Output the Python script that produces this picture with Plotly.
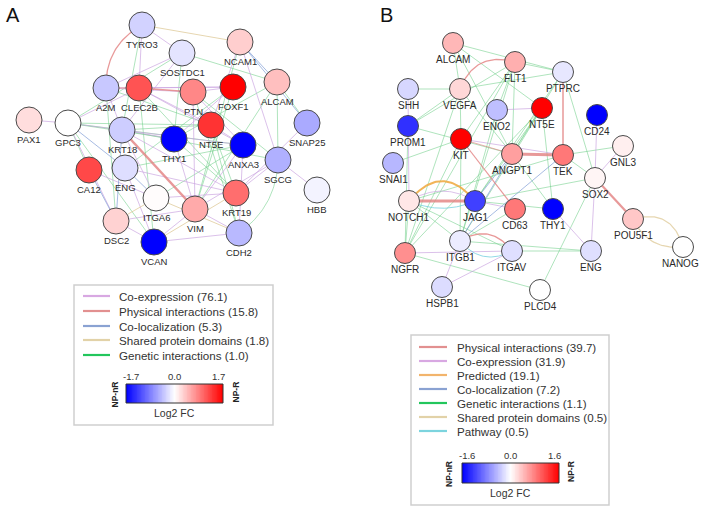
import numpy as np
import plotly.graph_objects as go

# ---------------- data ----------------
# Panel A nodes (name, layout position, log2 FC)
names_A = ["TYRO3", "SOSTDC1", "NCAM1", "A2M", "CLEC2B", "PTN", "FOXF1", "ALCAM", "PAX1",
           "GPC3", "KRT18", "NT5E", "THY1", "ANXA3", "SNAP25", "SGCG", "HBB", "CA12", "ENG",
           "ITGA6", "VIM", "KRT19", "DSC2", "VCAN", "CDH2"]
layout_x_A = [142, 182, 240, 106, 139, 193, 233, 277, 29, 68, 122, 211, 174, 243, 307, 278,
              317, 89, 125, 156, 195, 236, 116, 154, 239]
layout_y_A = [25, 53, 42, 88, 88, 92, 87, 82, 120, 123, 130, 125, 139, 145, 123, 160, 190,
              170, 168, 198, 209, 193, 221, 242, 233]
fc_A = [-0.3, -0.18, 0.33, -0.37, 1.15, 0.8, 1.7, 0.43, 0.23, 0.0, -0.33, 1.36, -1.7, -1.7,
        -0.57, -0.53, -0.08, 1.22, -0.22, 0.02, 0.57, 0.97, 0.3, -1.7, -0.47]

# Panel B nodes
names_B = ["ALCAM", "FLT1", "PTPRC", "SHH", "VEGFA", "ENO2", "NT5E", "CD24", "PROM1", "KIT",
           "ANGPT1", "TEK", "GNL3", "SNAI1", "SOX2", "NOTCH1", "JAG1", "CD63", "THY1",
           "POU5F1", "NANOG", "ITGB1", "ITGAV", "ENG", "NGFR", "HSPB1", "PLCD4"]
layout_x_B = [453, 515, 563, 408, 460, 497, 542, 597, 408, 461, 512, 563, 623, 393, 595, 409,
              475, 515, 553, 633, 683, 460, 512, 591, 405, 442, 540]
layout_y_B = [43, 62, 72, 89, 89, 110, 108, 115, 126, 139, 154, 155, 146, 163, 178, 201, 201,
              209, 209, 219, 247, 241, 251, 251, 253, 287, 290]
fc_B = [0.45, 0.5, -0.15, -0.25, 0.25, -0.4, 1.6, -1.6, -1.3, 1.6, 0.6, 0.85, 0.1, -0.45,
        0.06, 0.15, -1.2, 0.85, -1.6, 0.35, 0.0, -0.12, -0.2, -0.2, 0.7, -0.22, 0.0]

# Panel A edges by network type
coexp_A = [("TYRO3", "CLEC2B"), ("TYRO3", "SOSTDC1"), ("SOSTDC1", "A2M"), ("SOSTDC1", "KRT18"),
           ("A2M", "PTN"), ("CLEC2B", "FOXF1"), ("PTN", "FOXF1"),
           ("NCAM1", "NT5E"), ("NCAM1", "SGCG"), ("PAX1", "GPC3"), ("GPC3", "CLEC2B"),
           ("GPC3", "KRT18"), ("GPC3", "DSC2"), ("KRT18", "THY1"), ("KRT18", "ANXA3"),
           ("KRT18", "ITGA6"), ("KRT18", "KRT19"), ("THY1", "VIM"), ("NT5E", "ANXA3"),
           ("ANXA3", "VIM"), ("ANXA3", "CDH2"), ("SGCG", "HBB"), ("SGCG", "KRT19"),
           ("SGCG", "VIM"), ("ENG", "VCAN"), ("ITGA6", "KRT19"), ("DSC2", "VCAN"),
           ("DSC2", "VIM"), ("VCAN", "VIM"), ("VCAN", "CDH2"), ("VIM", "CDH2"),
           ("CA12", "ITGA6"), ("PTN", "VIM"), ("FOXF1", "THY1"), ("CLEC2B", "ANXA3"),
           ("PTN", "ANXA3"), ("A2M", "FOXF1"), ("CLEC2B", "NT5E"), ("ENG", "KRT19"),
           ("SNAP25", "KRT19"), ("A2M", "KRT18")]
phys_A = [("KRT18", "VIM", 2.5), ("CLEC2B", "PTN", 1.6), ("A2M", "CLEC2B", 1.2)]
phys_curved_A = [("TYRO3", "A2M", 0.3)]
coloc_A = [("NCAM1", "ALCAM"), ("NCAM1", "SNAP25"), ("CA12", "DSC2"), ("ENG", "ITGA6"),
           ("KRT18", "DSC2"), ("GPC3", "ENG")]
shared_A = [("TYRO3", "NCAM1"), ("VCAN", "KRT19"), ("ITGA6", "CDH2"), ("DSC2", "ITGA6")]
genetic_A = [("TYRO3", "KRT18"), ("SOSTDC1", "GPC3"), ("SOSTDC1", "ALCAM"), ("GPC3", "NT5E"),
             ("GPC3", "THY1"), ("GPC3", "ANXA3"), ("GPC3", "CA12"), ("GPC3", "VCAN"),
             ("A2M", "DSC2"), ("A2M", "NT5E"), ("CLEC2B", "KRT19"), ("ALCAM", "SNAP25"),
             ("ALCAM", "THY1"), ("ALCAM", "SGCG"), ("ALCAM", "VIM"), ("FOXF1", "VIM"),
             ("NT5E", "KRT19"), ("NT5E", "CDH2"), ("THY1", "KRT19"), ("ANXA3", "ITGA6"),
             ("KRT18", "SGCG"), ("ENG", "ANXA3"), ("KRT18", "NT5E"), ("PTN", "SGCG"),
             ("FOXF1", "ENG"), ("NCAM1", "VIM"), ("PTN", "CDH2"), ("SOSTDC1", "THY1"),
             ("CLEC2B", "VCAN")]
genetic_curved_A = [("SGCG", "CDH2", -0.25)]

# Panel B edges by network type
phys_B = [("ANGPT1", "TEK", 3.0), ("NOTCH1", "JAG1", 3.0), ("PTPRC", "TEK", 1.5),
          ("KIT", "CD63", 1.2), ("SOX2", "POU5F1", 2.2), ("KIT", "ANGPT1", 0.8)]
phys_curved_B = [("VEGFA", "FLT1", -0.45), ("ITGB1", "ITGAV", -0.45)]
pred_curved_B = [("NOTCH1", "JAG1", -0.6)]
coexp_B = [("KIT", "TEK"), ("ENO2", "NT5E"), ("SHH", "NOTCH1"), ("ITGB1", "HSPB1"),
           ("ITGAV", "HSPB1"), ("NGFR", "ITGAV"), ("ENG", "THY1"), ("SOX2", "ENG"),
           ("CD24", "SOX2"), ("GNL3", "SOX2"), ("JAG1", "CD63")]
coexp_curved_B = [("NOTCH1", "JAG1", -0.3)]
coloc_B = [("ITGB1", "TEK"), ("JAG1", "ANGPT1"), ("ITGB1", "ANGPT1")]
pathway_curved_B = [("ITGB1", "ITGAV", 0.4), ("NOTCH1", "JAG1", 0.22)]
shared_curved_B = [("POU5F1", "NANOG", -0.5), ("POU5F1", "NANOG", 0.35)]
genetic_B = [("ALCAM", "ANGPT1"), ("ALCAM", "NT5E"), ("ALCAM", "PTPRC"), ("VEGFA", "PROM1"),
             ("VEGFA", "PTPRC"), ("PROM1", "FLT1"), ("KIT", "FLT1"), ("PROM1", "ANGPT1"),
             ("SNAI1", "KIT"), ("FLT1", "ITGB1"), ("FLT1", "NGFR"), ("VEGFA", "NGFR"),
             ("PTPRC", "JAG1"), ("PTPRC", "SOX2"), ("NT5E", "JAG1"), ("NT5E", "ITGB1"),
             ("TEK", "GNL3"), ("TEK", "NOTCH1"), ("SOX2", "JAG1"), ("TEK", "SOX2"),
             ("ANGPT1", "THY1"), ("JAG1", "THY1"), ("CD63", "ITGB1"), ("ITGB1", "ENG"),
             ("ITGAV", "ENG"), ("NOTCH1", "NGFR"), ("PROM1", "NGFR"), ("KIT", "ITGB1"),
             ("NOTCH1", "ITGB1"), ("NGFR", "PLCD4"), ("PLCD4", "SOX2"), ("ENO2", "ITGB1"),
             ("FLT1", "ENO2"), ("FLT1", "PTPRC"), ("FLT1", "ANGPT1"), ("NT5E", "ANGPT1"),
             ("NT5E", "NGFR"), ("PTPRC", "ANGPT1"), ("KIT", "NGFR"), ("NOTCH1", "ITGAV"),
             ("VEGFA", "ANGPT1"), ("VEGFA", "KIT"), ("NT5E", "THY1"), ("ALCAM", "VEGFA"),
             ("SHH", "VEGFA")]

# Legend texts
legend_A = ["Co-expression (76.1)", "Physical interactions (15.8)", "Co-localization (5.3)",
            "Shared protein domains (1.8)", "Genetic interactions (1.0)"]
legend_A_types = ["coexp", "phys", "coloc", "shared", "genetic"]
legend_B = ["Physical interactions (39.7)", "Co-expression (31.9)", "Predicted (19.1)",
            "Co-localization (7.2)", "Genetic interactions (1.1)",
            "Shared protein domains (0.5)", "Pathway (0.5)"]
legend_B_types = ["phys", "coexp", "pred", "coloc", "genetic", "shared", "pathway"]
scale_A = [-1.7, 0.0, 1.7]
scale_B = [-1.6, 0.0, 1.6]
scale_ticks_A = ["-1.7", "0.0", "1.7"]
scale_ticks_B = ["-1.6", "0.0", "1.6"]

# ---------------- styles ----------------
FONT = "Liberation Sans, Arial, Helvetica, sans-serif"
edge_col = {
    "coexp": "rgba(200,160,222,0.65)",
    "phys": "rgba(226,128,128,0.8)",
    "coloc": "rgba(120,150,210,0.65)",
    "shared": "rgba(222,200,150,0.75)",
    "genetic": "rgba(110,205,135,0.55)",
    "pred": "rgba(240,172,70,0.9)",
    "pathway": "rgba(110,205,222,0.75)",
}
legend_col = {
    "coexp": "#d8a8e2", "phys": "#e29090", "coloc": "#8aa2d2", "shared": "#e2d2a8",
    "genetic": "#22c65c", "pred": "#f2b46c", "pathway": "#7cd4de",
}
CSCALE = [[0, "#0000ff"], [0.5, "#ffffff"], [1, "#ff0000"]]
W, H = 704, 509

fig = go.Figure()


def pos_map(names, xs, ys):
    return {n: (x, y) for n, x, y in zip(names, xs, ys)}


PA = pos_map(names_A, layout_x_A, layout_y_A)
PB = pos_map(names_B, layout_x_B, layout_y_B)


def add_straight(P, edges, kind, width=1.0):
    xs, ys = [], []
    for e in edges:
        a, b = e[0], e[1]
        xs += [P[a][0], P[b][0], None]
        ys += [P[a][1], P[b][1], None]
    fig.add_trace(go.Scatter(x=xs, y=ys, mode="lines", hoverinfo="skip",
                             line=dict(color=edge_col[kind], width=width)))


def add_weighted(P, edges, kind):
    for a, b, w in edges:
        add_straight(P, [(a, b)], kind, w)


def add_curved(P, edges, kind, width=1.2):
    t = np.linspace(0, 1, 40)
    for a, b, c in edges:
        x0, y0 = P[a]
        x1, y1 = P[b]
        mx, my = (x0 + x1) / 2, (y0 + y1) / 2
        dx, dy = x1 - x0, y1 - y0
        cx, cy = mx - c * dy, my + c * dx
        bx = (1 - t) ** 2 * x0 + 2 * (1 - t) * t * cx + t ** 2 * x1
        by = (1 - t) ** 2 * y0 + 2 * (1 - t) * t * cy + t ** 2 * y1
        fig.add_trace(go.Scatter(x=bx, y=by, mode="lines", hoverinfo="skip",
                                 line=dict(color=edge_col[kind], width=width)))


# Panel A edges
add_straight(PA, genetic_A, "genetic")
add_curved(PA, genetic_curved_A, "genetic", 1.0)
add_straight(PA, coexp_A, "coexp")
add_straight(PA, coloc_A, "coloc")
add_straight(PA, shared_A, "shared")
add_weighted(PA, phys_A, "phys")
add_curved(PA, phys_curved_A, "phys", 1.3)

# Panel B edges
add_straight(PB, genetic_B, "genetic")
add_straight(PB, coexp_B, "coexp")
add_curved(PB, coexp_curved_B, "coexp", 1.0)
add_straight(PB, coloc_B, "coloc")
add_curved(PB, pathway_curved_B, "pathway", 1.0)
add_curved(PB, shared_curved_B, "shared", 1.2)
add_weighted(PB, phys_B, "phys")
add_curved(PB, phys_curved_B, "phys", 1.3)
add_curved(PB, pred_curved_B, "pred", 2.0)


def add_nodes(names, xs, ys, fc, lim, size, fsize):
    fig.add_trace(go.Scatter(
        x=xs, y=ys, mode="markers", hoverinfo="text", text=names,
        marker=dict(size=size, color=fc, colorscale=CSCALE, cmin=-lim, cmax=lim,
                    line=dict(color="#4a4a4a", width=1), opacity=1)))
    for n, x, y in zip(names, xs, ys):
        near_edge = x > W - 24
        fig.add_annotation(x=W - 3 if near_edge else x, y=y + size / 2 + 6, text=n,
                           showarrow=False, xanchor="right" if near_edge else "center",
                           yanchor="middle",
                           font=dict(family=FONT, size=fsize, color="#2a2a2a"))


add_nodes(names_A, layout_x_A, layout_y_A, fc_A, 1.7, 26, 9.5)
add_nodes(names_B, layout_x_B, layout_y_B, fc_B, 1.6, 21, 10)


def add_legend(box, rows_y, labels, types, line_x, text_x, scale, ticks, cbar, tick_y,
               np_x, lab_y):
    x0, y0, x1, y1 = box
    fig.add_shape(type="rect", x0=x0, y0=y0, x1=x1, y1=y1,
                  line=dict(color="#cfcfcf", width=1.5), fillcolor="rgba(0,0,0,0)")
    for y, lab, t in zip(rows_y, labels, types):
        fig.add_shape(type="line", x0=line_x[0], x1=line_x[1], y0=y, y1=y,
                      line=dict(color=legend_col[t], width=2.2))
        fig.add_annotation(x=text_x, y=y, text=lab, showarrow=False, xanchor="left",
                           yanchor="middle", font=dict(family=FONT, size=11.6, color="#333"))
    cx0, cy0, cx1, cy1 = cbar
    lim = scale[-1]
    n = 120
    fig.add_trace(go.Heatmap(
        z=[np.linspace(-lim, lim, n)], x=np.linspace(cx0, cx1, n + 1), y=[cy0, cy1],
        colorscale=CSCALE, zmin=-lim, zmax=lim, showscale=False, hoverinfo="skip"))
    fig.add_shape(type="rect", x0=cx0, y0=cy0, x1=cx1, y1=cy1,
                  line=dict(color="#333", width=1))
    for v, tl in zip(scale, ticks):
        tx = cx0 + 5 + (v + lim) / (2 * lim) * (cx1 - cx0 - 10)
        fig.add_annotation(x=tx, y=tick_y, text=tl, showarrow=False, xanchor="center",
                           yanchor="middle", font=dict(family=FONT, size=9.5, color="#333"))
    cyc = (cy0 + cy1) / 2
    fig.add_annotation(x=np_x[0], y=cyc + 1, text="<b>NP-nR</b>", showarrow=False,
                       textangle=-90, xanchor="center", yanchor="middle",
                       font=dict(family=FONT, size=8.5, color="#222"))
    fig.add_annotation(x=np_x[1], y=cyc - 1, text="<b>NP-R</b>", showarrow=False,
                       textangle=-90, xanchor="center", yanchor="middle",
                       font=dict(family=FONT, size=8.5, color="#222"))
    fig.add_annotation(x=(cx0 + cx1) / 2, y=lab_y, text="Log2 FC", showarrow=False,
                       xanchor="center", yanchor="middle",
                       font=dict(family=FONT, size=10.5, color="#333"))


add_legend((74, 285, 273, 425), [296, 311, 326, 340, 355], legend_A, legend_A_types,
           (83, 110), 117, scale_A, scale_ticks_A, (126, 384, 223, 403), 376,
           (114, 235), 413)
add_legend((411, 335, 609, 505), [347, 361, 375, 389, 403, 417, 431], legend_B,
           legend_B_types, (419, 447), 455, scale_B, scale_ticks_B, (462, 463, 559, 483),
           455, (449, 571), 493)

# Panel letters
fig.add_annotation(x=13, y=15, text="A", showarrow=False, xanchor="center", yanchor="middle",
                   font=dict(family=FONT, size=20, color="#111"))
fig.add_annotation(x=386, y=15, text="B", showarrow=False, xanchor="center", yanchor="middle",
                   font=dict(family=FONT, size=20, color="#111"))

fig.update_layout(
    width=W, height=H, margin=dict(l=0, r=0, t=0, b=0),
    paper_bgcolor="white", plot_bgcolor="white", showlegend=False,
    xaxis=dict(range=[0, W], visible=False, fixedrange=True),
    yaxis=dict(range=[H, 0], visible=False, fixedrange=True),
)
fig.write_html("out.html", config={"displayModeBar": False},
               post_script="document.body.style.margin='0';"
                           "document.body.style.overflow='hidden';")
